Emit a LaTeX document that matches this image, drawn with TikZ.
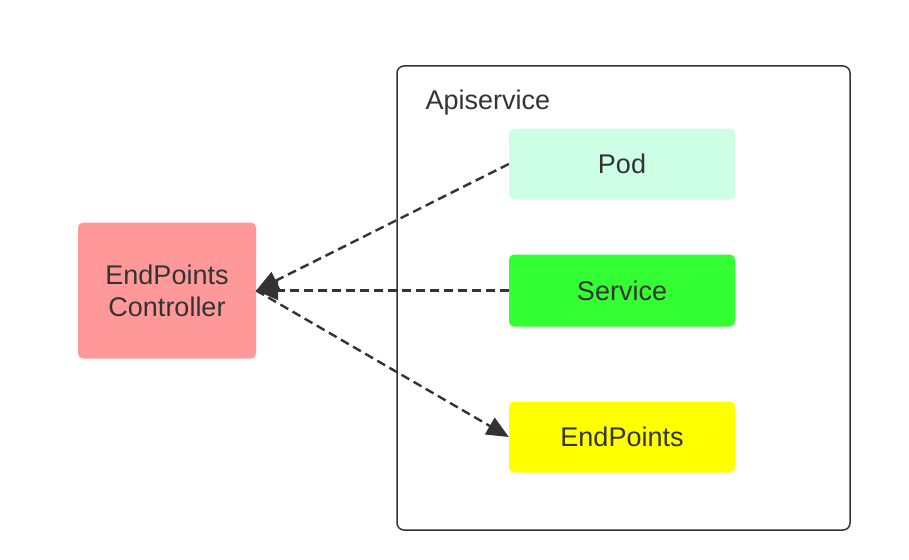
\documentclass[tikz,border=0pt]{standalone}
\usepackage{fontspec}
\setmainfont{Liberation Sans}
\usetikzlibrary{arrows.meta}
\definecolor{darkgray}{RGB}{51,51,51}
\definecolor{podmint}{RGB}{204,255,230}
\definecolor{svcgreen}{RGB}{51,255,51}
\definecolor{epyellow}{RGB}{255,255,0}
\definecolor{ctrlred}{RGB}{255,153,153}
\tikzset{
  box/.style={rounded corners=5pt,inner sep=0pt,text=darkgray,align=center,
    font=\fontsize{27}{32}\selectfont},
  flow/.style={darkgray,line width=2.4pt,dash pattern=on 9pt off 5pt,
    -{Triangle[length=22pt,width=19pt]}}
}
\begin{document}
\begin{tikzpicture}[x=1pt,y=-1pt]
        \useasboundingbox (0,0) rectangle (909,559);

        % apiservice
        \draw[darkgray,line width=1.5pt,rounded corners=7pt] (397,66) rectangle (850,530);
        \node[anchor=west,text=darkgray,font=\fontsize{27}{32}\selectfont] (api) at (422,103) {Apiservice};
        \node[box,fill=podmint,minimum width=226pt,minimum height=71pt] (pod) at (622,164) {Pod};
        \node[box,fill=svcgreen,minimum width=226pt,minimum height=72pt] (svc) at (622,290.5) {Service};
        \node[box,fill=epyellow,minimum width=226pt,minimum height=71pt] (ep) at (622,437) {EndPoints};

        % controller
        \node[box,fill=ctrlred,minimum width=178pt,minimum height=136pt] (ctrl) at (167,290.5) {EndPoints\\Controller};

        \draw[flow] (pod.west) -- (ctrl.east);
        \draw[flow] (svc.west) -- (ctrl.east);
        \draw[flow] (ctrl.east) -- (ep.west);
    \end{tikzpicture}
\end{document}
